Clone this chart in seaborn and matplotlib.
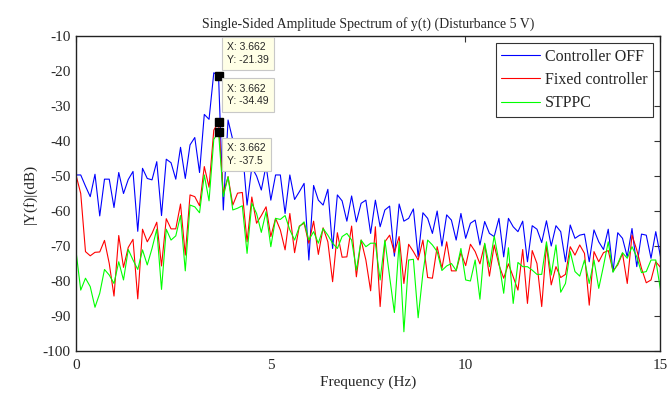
import numpy as np
import pandas as pd
import matplotlib
matplotlib.use('Agg')
import matplotlib.pyplot as plt
import seaborn as sns

# frequency resolution of the FFT grid (Hz per bin)
FREQ_STEP = 0.12207

ctrl_off = [
    -49.7, -49.7, -52.9, -55.9, -49.5, -61.4, -50.9, -50.9, -59.0, -49.0, -55.0, -51.0, -48.7, -65.8, -47.8, -50.7,
    -51.1, -45.9, -61.3, -45.2, -46.2, -50.9, -41.8, -50.7, -41.1, -39.0, -49.0, -32.4, -33.8, -20.5, -21.39, -59.7,
    -34.0, -39.7, -45.0, -42.0, -58.3, -47.5, -50.0, -54.0, -47.0, -56.9, -49.7, -49.7, -60.7, -49.7, -56.7, -54.5,
    -52.1, -74.0, -52.7, -56.9, -58.3, -53.8, -70.7, -55.4, -57.1, -62.9, -55.7, -63.1, -57.8, -56.9, -66.4,
    -56.9, -64.5, -59.7, -58.6, -72.9, -58.0, -62.9, -62.1, -59.4, -73.1, -60.5, -62.1, -66.4, -60.0, -70.0, -61.1,
    -62.6, -68.3, -60.7, -67.8, -63.5, -62.6, -69.7, -63.0, -66.4, -67.3, -62.1, -73.1, -62.1, -64.5, -65.9, -62.9,
    -74.5, -64.2, -65.2, -69.0, -62.8, -70.0, -64.2, -65.9, -74.5, -64.0, -67.8, -66.9, -66.6, -74.5, -65.4, -68.8,
    -71.0, -65.2, -77.3, -66.2, -67.8, -73.1, -65.0, -75.9, -66.6, -66.9, -73.5, -65.9, -73.1,
]

fixed_ctrl = [
    -49.7, -55.0, -71.6, -72.8, -71.8, -71.7, -68.4, -75.0, -84.3, -67.0, -76.1, -70.4, -68.1, -85.1, -65.2, -68.8,
    -66.4, -63.2, -75.7, -62.2, -65.1, -65.1, -58.0, -72.6, -55.4, -55.9, -58.5, -47.3, -53.2, -36.9, -34.49, -55.0,
    -50.2, -58.3, -54.9, -54.7, -68.8, -56.0, -63.5, -61.3, -58.8, -67.3, -62.1, -65.4, -71.1, -60.7, -71.9, -64.3,
    -63.5, -69.2, -62.9, -72.4, -64.8, -68.8, -80.2, -66.2, -73.2, -73.1, -64.3, -78.8, -68.3, -74.0, -82.8,
    -64.5, -87.3, -68.8, -66.9, -71.9, -67.3, -80.7, -69.5, -71.6, -74.0, -68.3, -79.0, -79.2, -70.2, -76.4, -68.8,
    -77.1, -77.1, -71.9, -75.6, -69.5, -71.6, -75.1, -69.4, -78.6, -69.7, -75.4, -79.2, -75.1, -78.8, -82.6, -71.0,
    -86.4, -71.3, -75.0, -87.3, -69.7, -81.1, -75.9, -79.0, -78.1, -70.2, -72.6, -69.7, -72.1, -86.9, -71.6, -74.5,
    -71.9, -71.3, -77.1, -75.4, -72.1, -80.7, -66.9, -71.1, -76.4, -80.5, -79.7, -74.5, -76.1,
]

stppc = [
    -71.4, -82.6, -79.2, -81.6, -87.5, -83.5, -76.7, -78.3, -80.7, -74.5, -79.7, -71.0, -74.0, -76.7, -71.1, -75.4,
    -70.7, -65.2, -82.4, -65.2, -68.3, -67.1, -61.3, -77.1, -58.3, -58.8, -60.5, -49.7, -57.1, -39.5, -37.5, -55.9,
    -50.2, -59.7, -59.2, -58.5, -72.1, -57.8, -60.7, -66.1, -60.2, -70.2, -62.1, -62.4, -61.3, -65.4, -68.3, -64.5,
    -63.1, -68.3, -65.9, -69.2, -65.0, -66.9, -69.2, -70.7, -67.3, -66.4, -68.3, -76.9, -68.3, -70.2, -69.2,
    -69.2, -79.7, -68.3, -78.8, -89.0, -68.8, -94.5, -74.0, -73.8, -90.5, -77.8, -68.3, -69.7, -71.6, -77.0, -75.7,
    -75.0, -77.0, -70.7, -79.7, -80.0, -74.0, -85.2, -69.2, -75.9, -67.1, -74.5, -83.5, -70.5, -86.4, -74.7, -75.9,
    -75.9, -76.9, -78.1, -78.1, -68.8, -78.3, -69.7, -83.2, -80.7, -71.6, -77.3, -78.6, -74.0, -80.7, -74.0, -82.1,
    -75.7, -68.8, -77.5, -75.0, -71.9, -73.5, -70.2, -73.1, -77.6, -77.3, -74.0, -74.0, -82.6,
]

labels = ['Controller OFF', 'Fixed controller', 'STPPC']
colors = ['#0000ff', '#ff0000', '#00ff00']

# data tips (bin index and the x value shown)
tip_bin = 30
tip_x = 3.662

freq = np.arange(len(ctrl_off)) * FREQ_STEP
df = pd.DataFrame({'freq': freq, labels[0]: ctrl_off, labels[1]: fixed_ctrl, labels[2]: stppc})

sns.set_theme(style='white')
plt.rcParams['font.family'] = ['Liberation Serif', 'DejaVu Serif']
plt.rcParams['axes.unicode_minus'] = False
plt.rcParams['xtick.direction'] = 'in'
plt.rcParams['ytick.direction'] = 'in'

fig = plt.figure(figsize=(6.7, 3.94), dpi=100)
ax = fig.add_axes([0.1134, 0.1091, 0.8716, 0.7995])

for lab, col in zip(labels, colors):
    sns.lineplot(data=df, x='freq', y=lab, ax=ax, color=col, linewidth=0.8,
                 label=lab, estimator=None)

ax.set_xlim(0, 15)
ax.set_ylim(-100, -10)
ax.set_xticks([0, 5, 10, 15])
ax.set_yticks(np.arange(-100, 0, 10))
ax.tick_params(axis='both', labelsize=11, length=4, width=0.8, color='#333333',
               top=True, right=True)
ax.tick_params(axis='x', pad=6)
ax.tick_params(axis='y', pad=4)
for s in ax.spines.values():
    s.set_color('#222222')
    s.set_linewidth(1.0)

ax.set_xlabel('Frequency (Hz)', fontsize=11, labelpad=2)
ax.set_ylabel('|Y(f)|(dB)', fontsize=11, labelpad=4)
ax.set_title('Single-Sided Amplitude Spectrum of y(t) (Disturbance 5 V)', fontsize=10, pad=6)

leg = ax.legend(loc='upper right', fontsize=11.5, frameon=True, fancybox=False,
                edgecolor='black', handlelength=2.4, labelspacing=0.45,
                borderaxespad=0.45, borderpad=0.35, handletextpad=0.3)
leg.get_frame().set_linewidth(0.8)

# data tip markers and boxes
tip_offsets = [(6, 8, 'bottom'), (6, 11, 'bottom'), (6, -8, 'top')]
for series, (dx, dy, va) in zip([ctrl_off, fixed_ctrl, stppc], tip_offsets):
    yv = series[tip_bin]
    ax.plot([freq[tip_bin]], [yv], marker='s', color='black', markersize=5.5, zorder=5)
    ax.annotate('X: %.3f\nY: %s' % (tip_x, ('%.2f' % yv).rstrip('0').rstrip('.')),
                xy=(freq[tip_bin], yv), xytext=(dx, dy), textcoords='offset points',
                ha='left', va=va, fontsize=7.5, family=['Liberation Sans', 'DejaVu Sans'],
                linespacing=1.35, zorder=6,
                bbox=dict(boxstyle='square,pad=0.5', fc='#ffffe6', ec='#c8c8c8', lw=0.8))

fig.savefig('out.png', dpi=100)
